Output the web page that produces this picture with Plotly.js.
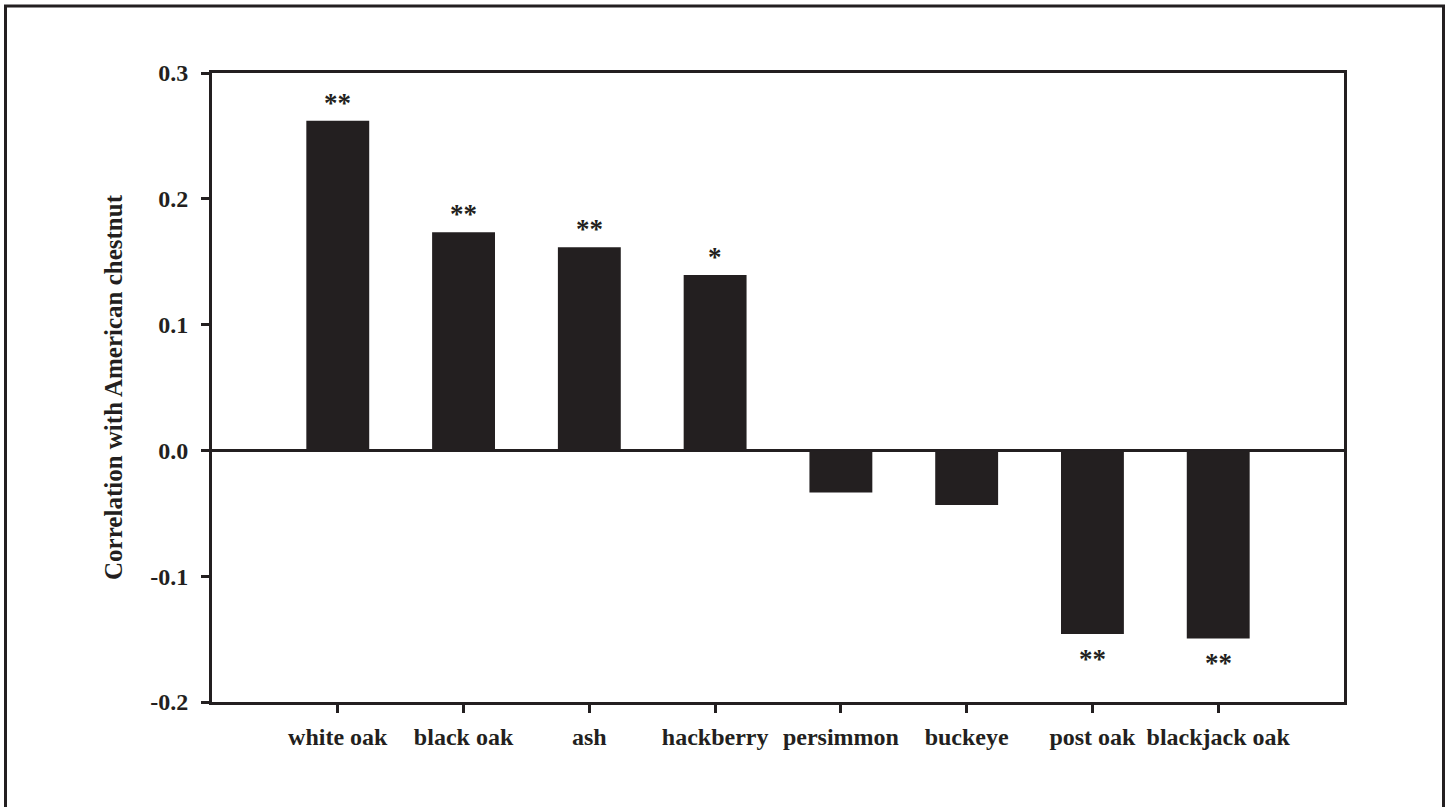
<!DOCTYPE html>
<html>
<head>
<meta charset="utf-8">
<script src="https://cdn.plot.ly/plotly-3.0.1.min.js"></script>
<style>
  html, body { margin: 0; padding: 0; background: #ffffff; }
  #chart { width: 1452px; height: 807px; }
</style>
</head>
<body>
<div id="chart"></div>
<script>
// ---- data ----
const species = ['white oak', 'black oak', 'ash', 'hackberry', 'persimmon', 'buckeye', 'post oak', 'blackjack oak'];
const correlation = [0.262, 0.1735, 0.1615, 0.1395, -0.0335, -0.0435, -0.146, -0.1495];
const significance = ['**', '**', '**', '*', '', '', '**', '**'];
const yTickValues = [-0.2, -0.1, 0.0, 0.1, 0.2, 0.3];
const yTickLabels = ['-0.2', '-0.1', '0.0', '0.1', '0.2', '0.3'];
const yTitle = 'Correlation with American chestnut';

// ---- style ----
const ink = '#231f20';
const serifFamily = 'Liberation Serif, Times New Roman, serif';
const serifBold = { family: serifFamily, size: 24, color: ink, weight: 'bold' };

const trace = {
  type: 'bar',
  x: species,
  y: correlation,
  width: 0.5,
  marker: { color: ink, line: { width: 0 } },
  hoverinfo: 'x+y'
};

const annotations = species.map((s, i) => ({
  x: s,
  y: correlation[i],
  xref: 'x',
  yref: 'y',
  text: significance[i],
  showarrow: false,
  font: { family: serifFamily, size: 27, color: ink, weight: 'bold' },
  yanchor: correlation[i] >= 0 ? 'bottom' : 'top',
  yshift: correlation[i] >= 0 ? 1 : -8
})).filter(a => a.text !== '');

const layout = {
  width: 1452,
  height: 807,
  margin: { l: 212, r: 108, t: 73, b: 105 },
  paper_bgcolor: '#ffffff',
  plot_bgcolor: '#ffffff',
  showlegend: false,
  xaxis: {
    type: 'category',
    range: [-1, 8],
    showgrid: false,
    zeroline: false,
    showline: true,
    linecolor: ink,
    linewidth: 3,
    mirror: true,
    ticks: 'outside',
    ticklen: 8,
    tickwidth: 3,
    tickcolor: ink,
    tickfont: serifBold,
    ticklabelstandoff: 3,
    fixedrange: true
  },
  yaxis: {
    range: [-0.2, 0.3],
    tickvals: yTickValues,
    ticktext: yTickLabels,
    showgrid: false,
    zeroline: true,
    zerolinecolor: ink,
    zerolinewidth: 3,
    showline: true,
    linecolor: ink,
    linewidth: 3,
    mirror: true,
    ticks: 'outside',
    ticklen: 8,
    tickwidth: 3,
    tickcolor: ink,
    tickfont: serifBold,
    ticklabelstandoff: 8,
    automargin: true,
    title: { text: yTitle, font: { family: serifFamily, size: 25, color: ink, weight: 'bold' }, standoff: 21 },
    fixedrange: true
  },
  annotations: annotations,
  shapes: [{
    type: 'rect',
    xref: 'paper', yref: 'paper',
    x0: (5.5 - 212) / 1132, x1: (1443.5 - 212) / 1132,
    y0: (702 - 812) / 629, y1: (702 - 6) / 629,
    line: { color: ink, width: 3 },
    fillcolor: 'rgba(0,0,0,0)',
    layer: 'above'
  }]
};

Plotly.newPlot('chart', [trace], layout, { displayModeBar: false, staticPlot: true });
</script>
</body>
</html>
